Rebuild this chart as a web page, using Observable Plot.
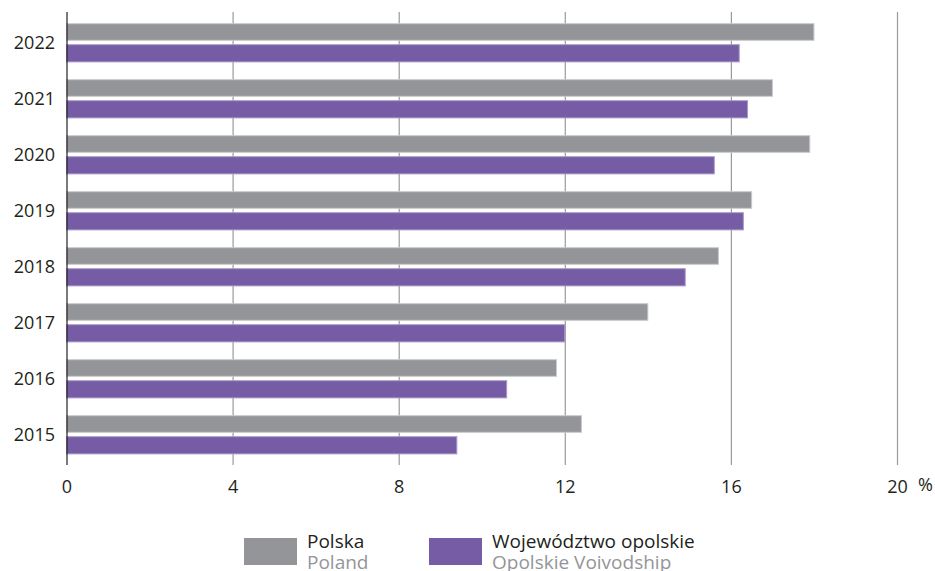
<!DOCTYPE html>
<html>
<head>
<meta charset="utf-8">
<script src="https://cdn.jsdelivr.net/npm/d3@7"></script>
<script src="https://cdn.jsdelivr.net/npm/@observablehq/plot@0.6"></script>
<style>
  html, body { margin: 0; padding: 0; background: #fff; }
  #wrap { position: relative; width: 935px; height: 571px; overflow: hidden; font-family: "Open Sans", sans-serif; }
  .leg { position: absolute; display: flex; align-items: flex-start; }
  .sw { width: 53px; height: 27px; margin-top: 0; }
  .lt { margin-left: 10px; font-size: 19px; line-height: 21px; color: #231f20; margin-top: -7px; }
  .lt .en { color: #939598; }
</style>
</head>
<body>
<div id="wrap"></div>
<script>
const years = ["2022", "2021", "2020", "2019", "2018", "2017", "2016", "2015"];
const polska = [18.0, 17.0, 17.9, 16.5, 15.7, 14.0, 11.8, 12.4];
const opolskie = [16.2, 16.4, 15.6, 16.3, 14.9, 12.0, 10.6, 9.4];
const xTicks = [0, 4, 8, 12, 16, 20];
const seriesNames = [["Polska", "Poland"], ["Województwo opolskie", "Opolskie Voivodship"]];
const colors = ["#939598", "#755ca5"];

const dataP = years.map((y, i) => ({year: y, value: polska[i]}));
const dataO = years.map((y, i) => ({year: y, value: opolskie[i]}));

const chart = Plot.plot({
  width: 935,
  height: 500,
  marginTop: 12,
  marginBottom: 35,
  marginLeft: 66.5,
  marginRight: 38,
  style: {fontFamily: "'Open Sans', sans-serif", fontSize: "18px", color: "#231f20", background: "#fff"},
  x: {domain: [0, 20], ticks: xTicks, tickSize: 0, tickPadding: 15, label: null},
  y: {domain: years, padding: 0, tickSize: 0, tickPadding: 12, label: null},
  marks: [
    Plot.ruleX(xTicks.filter(d => d > 0), {stroke: "#999a9c", strokeWidth: 1.2}),
    Plot.barX(dataP, {x: "value", y: "year", fill: colors[0], stroke: "#c9cacc", strokeWidth: 1, insetTop: 8.7, insetBottom: 30.7}),
    Plot.barX(dataO, {x: "value", y: "year", fill: colors[1], stroke: "#a898cb", strokeWidth: 1, insetTop: 29.7, insetBottom: 9.1}),
    Plot.ruleX([0], {stroke: "#231f20", strokeWidth: 1.2}),
    Plot.text(["%"], {x: 20, frameAnchor: "bottom", dx: 28, dy: 25, text: d => d, fontSize: 18, fill: "#231f20"})
  ]
});

const wrap = document.getElementById("wrap");
wrap.appendChild(chart);

const legPos = [244, 429];
seriesNames.forEach((names, i) => {
  const d = document.createElement("div");
  d.className = "leg";
  d.style.left = legPos[i] + "px";
  d.style.top = "538px";
  d.innerHTML = `<div class="sw" style="background:${colors[i]}"></div><div class="lt"><div>${names[0]}</div><div class="en">${names[1]}</div></div>`;
  wrap.appendChild(d);
});
</script>
</body>
</html>
